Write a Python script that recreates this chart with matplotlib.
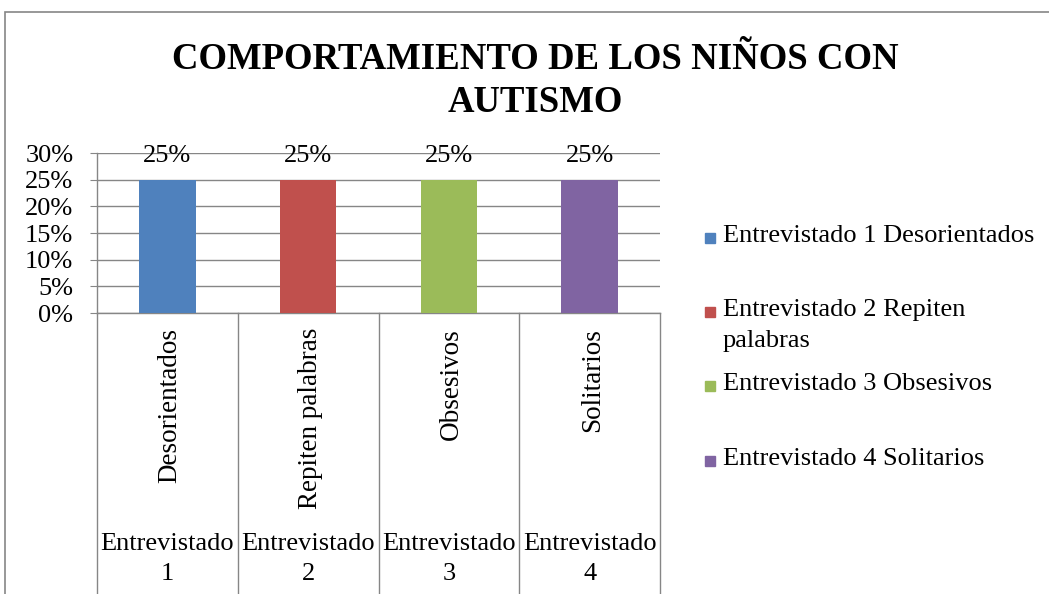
import matplotlib
matplotlib.use("Agg")
import matplotlib.pyplot as plt
from matplotlib.patches import Rectangle
from matplotlib.transforms import blended_transform_factory

title = "COMPORTAMIENTO DE LOS NIÑOS CON\nAUTISMO"
interviewees = ["Entrevistado\n1", "Entrevistado\n2", "Entrevistado\n3", "Entrevistado\n4"]
behaviours = ["Desorientados", "Repiten palabras", "Obsesivos", "Solitarios"]
values = [0.25, 0.25, 0.25, 0.25]
legend_labels = ["Entrevistado 1 Desorientados", "Entrevistado 2 Repiten\npalabras",
                 "Entrevistado 3 Obsesivos", "Entrevistado 4 Solitarios"]
yticks = [0.0, 0.05, 0.10, 0.15, 0.20, 0.25, 0.30]
ytick_labels = ["0%", "5%", "10%", "15%", "20%", "25%", "30%"]
colors = ["#4F81BD", "#C0504D", "#9BBB59", "#8064A2"]

plt.rcParams['font.family'] = ['Liberation Serif', 'DejaVu Serif']
FS = 19
W, H = 1049, 594
fig = plt.figure(figsize=(W / 100, H / 100), dpi=100)

# outer chart border
fig.patches.append(Rectangle((5 / W, -0.1), 1.2, 1 - 12 / H + 0.1, transform=fig.transFigure,
                             fill=False, edgecolor="#868686", linewidth=1.2))

ax_left, ax_right = 97 / W, 660 / W
ax_bottom, ax_top = (H - 313) / H, (H - 153) / H
ax = fig.add_axes([ax_left, ax_bottom, ax_right - ax_left, ax_top - ax_bottom])

x = list(range(len(values)))
bars = ax.bar(x, values, width=0.40, color=colors, zorder=3)
ax.set_xlim(-0.5, len(values) - 0.5)
ax.set_ylim(0, 0.30)
ax.set_yticks(yticks)
ax.set_yticklabels(ytick_labels, fontsize=FS)
ax.yaxis.grid(True, color="#868686", linewidth=1.0, zorder=0)
ax.set_xticks([])
for s in ["top", "right"]:
    ax.spines[s].set_visible(False)
for s in ["left", "bottom"]:
    ax.spines[s].set_color("#868686")
    ax.spines[s].set_linewidth(1.0)
ax.tick_params(axis="y", length=5, color="#868686", pad=12)

for b, v in zip(bars, values):
    ax.annotate(f"{v:.0%}", (b.get_x() + b.get_width() / 2, v), xytext=(0, 9),
                textcoords="offset points", ha="center", va="bottom", fontsize=FS)

tr = blended_transform_factory(ax.transData, ax.transAxes)
ax_h_px = 160
bottom_frac = -(H - 313) / ax_h_px
for xb in [i - 0.5 for i in range(len(values) + 1)]:
    ax.plot([xb, xb], [0, bottom_frac], transform=tr, color="#868686", linewidth=1.0, clip_on=False)

for i, (beh, who) in enumerate(zip(behaviours, interviewees)):
    ax.text(i + 0.02, -15 / ax_h_px, beh, rotation=90, ha="center", va="top", fontsize=19.5,
            transform=tr)
    ax.text(i, -(559 - 313) / ax_h_px, who, ha="center", va="center", fontsize=FS,
            transform=tr, linespacing=1.43)

fig.text(535 / W, 1 - 81 / H, title, ha="center", va="center", fontsize=26.5,
         fontweight="bold", linespacing=1.28)

# legend
legend_y = [238, 312, 386, 461]
for lab, c, yy in zip(legend_labels, colors, legend_y):
    fig.patches.append(Rectangle((705 / W, 1 - (yy + 5) / H), 10 / W, 10 / H,
                                 transform=fig.transFigure, color=c))
    fig.text(723 / W, 1 - (yy - 13) / H, lab, ha="left", va="top", fontsize=FS,
             linespacing=1.5, transform=fig.transFigure)

fig.savefig("out.png", dpi=100)
